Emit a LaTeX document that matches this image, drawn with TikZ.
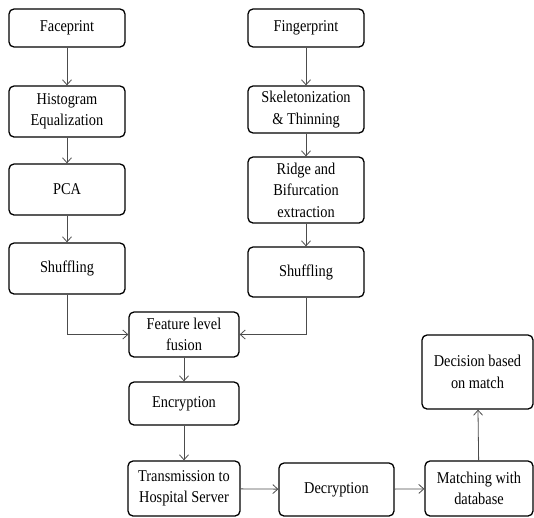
\documentclass[tikz,border=0pt]{standalone}
\usepackage{fontspec}
\setmainfont{Liberation Serif}[FakeStretch=0.87]
\usetikzlibrary{arrows.meta}
\begin{document}
\begin{tikzpicture}[x=1pt,y=-1pt,
  box/.style={draw=black, line width=1.3pt, rounded corners=5pt, align=center,
    inner sep=1pt, font=\fontsize{16.5}{21.5}\selectfont},
  conn/.style={draw=black!70, line width=0.8pt, -{Straight Barb[length=5pt,width=9pt]}}]
\useasboundingbox (0,0) rectangle (534,517);
\node[box, minimum width=116pt, minimum height=38pt] (face) at (67,28) {Faceprint};
\node[box, minimum width=116pt, minimum height=51pt] (hist) at (67,111.5) {Histogram\\Equalization};
\node[box, minimum width=116pt, minimum height=51pt] (pca) at (67,189.5) {PCA};
\node[box, minimum width=116pt, minimum height=51pt] (shufa) at (67,268.5) {Shuffling};
\node[box, minimum width=116pt, minimum height=38pt] (finger) at (306,28) {Fingerprint};
\node[box, minimum width=116pt, minimum height=47pt] (skel) at (306,109.5) {Skeletonization\\\& Thinning};
\node[box, minimum width=116pt, minimum height=66pt] (ridge) at (306,190) {Ridge and\\Bifurcation\\extraction};
\node[box, minimum width=116pt, minimum height=50pt] (shufb) at (306,272) {Shuffling};
\node[box, minimum width=110pt, minimum height=45pt] (fusion) at (184,334.5) {Feature level\\fusion};
\node[box, minimum width=110pt, minimum height=43pt] (enc) at (184,403.5) {Encryption};
\node[box, minimum width=112pt, minimum height=55pt] (trans) at (184,488.5) {Transmission to\\Hospital Server};
\node[box, minimum width=115pt, minimum height=53pt] (dec) at (336.5,489.5) {Decryption};
\node[box, minimum width=108pt, minimum height=55pt] (match) at (479,488.5) {Matching with\\database};
\node[box, minimum width=111pt, minimum height=74pt] (decide) at (477.5,372) {Decision based\\on match};
\draw[conn] (face) -- (hist);
\draw[conn] (hist) -- (pca);
\draw[conn] (pca) -- (shufa);
\draw[conn] (finger) -- (skel);
\draw[conn] (skel) -- (ridge);
\draw[conn] (ridge) -- (shufb);
\draw[conn] (shufa.south) |- (fusion.west);
\draw[conn] (shufb.south) |- (fusion.east);
\draw[conn] (fusion) -- (enc);
\draw[conn] (enc) -- (trans);
\draw[conn] (trans) -- (dec);
\draw[conn] (dec) -- (match);
\draw[conn] (match) -- (decide);
\end{tikzpicture}
\end{document}
